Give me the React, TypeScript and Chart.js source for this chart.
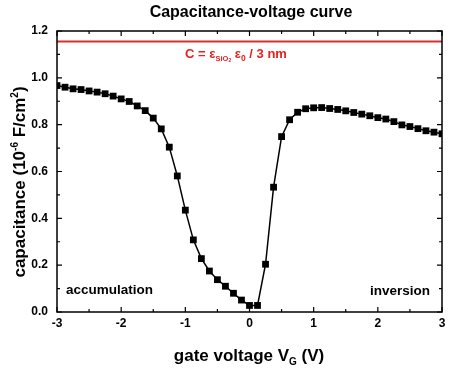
import React, { useEffect, useRef } from "react";
import { Chart, registerables } from "chart.js";

Chart.register(...registerables);

const voltages = [
  -3.0, -2.875, -2.75, -2.625, -2.5, -2.375, -2.25, -2.125, -2.0, -1.875, -1.75, -1.625, -1.5,
  -1.375, -1.25, -1.125, -1.0, -0.875, -0.75, -0.625, -0.5, -0.375, -0.25, -0.125, 0.0,
  0.125, 0.25, 0.375, 0.5, 0.625, 0.75, 0.875, 1.0, 1.125, 1.25, 1.375, 1.5, 1.625, 1.75,
  1.875, 2.0, 2.125, 2.25, 2.375, 2.5, 2.625, 2.75, 2.875, 3.0,
];
const capacitance = [
  0.967, 0.96, 0.953, 0.95, 0.944, 0.939, 0.932, 0.922, 0.91, 0.899, 0.88, 0.86, 0.828,
  0.782, 0.704, 0.581, 0.435, 0.308, 0.228, 0.175, 0.138, 0.11, 0.08, 0.051, 0.028,
  0.028, 0.204, 0.533, 0.749, 0.821, 0.853, 0.868, 0.872, 0.873, 0.869, 0.865, 0.859, 0.852, 0.845,
  0.838, 0.83, 0.824, 0.813, 0.799, 0.792, 0.783, 0.774, 0.768, 0.761,
];
const oxideLimitX = [-3, 3];
const oxideLimitY = [1.155, 1.155];
const xTicks = [-3, -2, -1, 0, 1, 2, 3];
const yTicks = [0.0, 0.2, 0.4, 0.6, 0.8, 1.0, 1.2];

const FONT = "'Liberation Sans', Arial, sans-serif";

type Part = { text: string; size: number; dy?: number };

function drawRich(ctx: CanvasRenderingContext2D, parts: Part[], x: number, y: number) {
  let total = 0;
  for (const p of parts) {
    ctx.font = `bold ${p.size}px ${FONT}`;
    total += ctx.measureText(p.text).width;
  }
  let cx = x - total / 2;
  ctx.textAlign = "left";
  ctx.textBaseline = "alphabetic";
  for (const p of parts) {
    ctx.font = `bold ${p.size}px ${FONT}`;
    ctx.fillText(p.text, cx, y + (p.dy || 0));
    cx += ctx.measureText(p.text).width;
  }
}

const decorPlugin = {
  id: "decor",
  afterDraw(chart: any) {
    const ctx: CanvasRenderingContext2D = chart.ctx;
    const { left, right, top, bottom } = chart.chartArea;
    const xs = chart.scales.x;
    const ys = chart.scales.y;
    ctx.save();
    ctx.strokeStyle = "#000";
    ctx.lineWidth = 1.5;
    ctx.strokeRect(left, top, right - left, bottom - top);
    ctx.lineWidth = 1.2;
    ctx.beginPath();
    for (let v = -3; v <= 3.001; v += 0.5) {
      const px = xs.getPixelForValue(v);
      const len = Math.abs(v - Math.round(v)) < 0.01 ? 5 : 3;
      ctx.moveTo(px, bottom);
      ctx.lineTo(px, bottom - len);
      ctx.moveTo(px, top);
      ctx.lineTo(px, top + len);
    }
    for (let i = 0; i <= 12; i++) {
      const v = i / 10;
      const py = ys.getPixelForValue(v);
      const len = i % 2 === 0 ? 5 : 3;
      ctx.moveTo(left, py);
      ctx.lineTo(left + len, py);
      ctx.moveTo(right, py);
      ctx.lineTo(right - len, py);
    }
    ctx.stroke();

    ctx.fillStyle = "#000";
    drawRich(ctx, [{ text: "Capacitance-voltage curve", size: 16 }], 251, 17);

    drawRich(
      ctx,
      [
        { text: "gate voltage V", size: 17 },
        { text: "G", size: 10, dy: 4 },
        { text: " (V)", size: 17 },
      ],
      249,
      361
    );

    ctx.save();
    ctx.translate(25, 182);
    ctx.rotate(-Math.PI / 2);
    drawRich(
      ctx,
      [
        { text: "capacitance (10", size: 17 },
        { text: "-6", size: 10, dy: -7 },
        { text: " F/cm", size: 17 },
        { text: "2", size: 10, dy: -7 },
        { text: ")", size: 17 },
      ],
      0,
      0
    );
    ctx.restore();

    ctx.fillStyle = "#e82020";
    drawRich(
      ctx,
      [
        { text: "C = ε", size: 13 },
        { text: "SiO", size: 7.5, dy: 3 },
        { text: "2", size: 5, dy: 4 },
        { text: " ε", size: 13 },
        { text: "0", size: 8.5, dy: 3 },
        { text: " / 3 nm", size: 13 },
      ],
      236,
      58
    );

    ctx.fillStyle = "#000";
    ctx.font = `bold 13.5px ${FONT}`;
    ctx.textAlign = "left";
    ctx.fillText("accumulation", 66, 294);
    ctx.fillText("inversion", 370, 295);
    ctx.restore();
  },
};

export default function App() {
  const ref = useRef<HTMLCanvasElement>(null);
  useEffect(() => {
    document.body.style.margin = "0";
    const canvas = ref.current!;
    const chart = new Chart(canvas, {
      type: "scatter",
      data: {
        datasets: [
          {
            data: oxideLimitX.map((x, i) => ({ x, y: oxideLimitY[i] })),
            showLine: true,
            borderColor: "#d83030",
            borderWidth: 2,
            pointRadius: 0,
          },
          {
            data: voltages.map((x, i) => ({ x, y: capacitance[i] })),
            showLine: true,
            borderColor: "#000",
            borderWidth: 1.5,
            backgroundColor: "#000",
            pointStyle: "rect",
            pointRadius: 4.8,
            pointBorderWidth: 0,
          },
        ],
      },
      options: {
        animation: false,
        responsive: false,
        events: [],
        layout: { padding: { top: 31, right: 8, left: 0, bottom: 0 } },
        plugins: { legend: { display: false }, tooltip: { enabled: false }, title: { display: false } },
        scales: {
          x: {
            type: "linear",
            min: -3,
            max: 3,
            afterFit: (s: any) => {
              s.height = 59;
            },
            afterBuildTicks: (s: any) => {
              s.ticks = xTicks.map((v) => ({ value: v }));
            },
            ticks: {
              color: "#000",
              font: { family: FONT, size: 12, weight: "bold" },
              padding: 4,
              maxRotation: 0,
              callback: (v: any) => String(v),
            },
            grid: { display: false, drawTicks: false },
            border: { display: false },
          },
          y: {
            type: "linear",
            min: 0,
            max: 1.2,
            afterFit: (s: any) => {
              s.width = 57;
            },
            afterBuildTicks: (s: any) => {
              s.ticks = yTicks.map((v) => ({ value: v }));
            },
            ticks: {
              color: "#000",
              font: { family: FONT, size: 12, weight: "bold" },
              padding: 9,
              callback: (v: any) => Number(v).toFixed(1),
            },
            grid: { display: false, drawTicks: false },
            border: { display: false },
          },
        },
      },
      plugins: [decorPlugin],
    });
    return () => chart.destroy();
  }, []);
  return <canvas ref={ref} width={450} height={371} style={{ display: "block" }} />;
}
